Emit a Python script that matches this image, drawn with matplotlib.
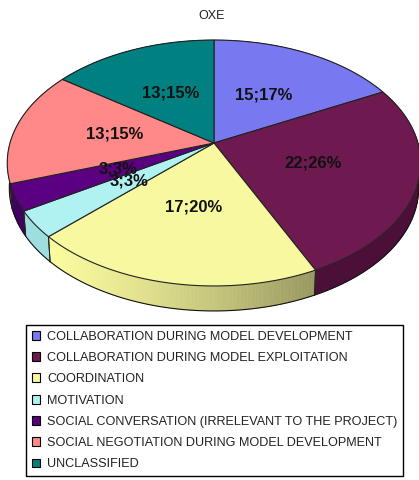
import matplotlib
matplotlib.use("Agg")
import matplotlib.pyplot as plt
import numpy as np
from matplotlib.patches import Patch

plt.rcParams["font.family"] = ["Liberation Sans", "DejaVu Sans"]

title = "OXE"
categories = [
    "COLLABORATION DURING MODEL DEVELOPMENT",
    "COLLABORATION DURING MODEL EXPLOITATION",
    "COORDINATION",
    "MOTIVATION",
    "SOCIAL CONVERSATION (IRRELEVANT TO THE PROJECT)",
    "SOCIAL NEGOTIATION DURING MODEL DEVELOPMENT",
    "UNCLASSIFIED",
]
values = [15, 22, 17, 3, 3, 13, 13]
percents = [17, 26, 20, 3, 3, 15, 15]
top_colors = ["#7878f0", "#6e1a50", "#f8f8a0", "#b0f2f2", "#5a0080", "#ff8888", "#008080"]
side_colors = ["#5050a0", "#4c1038", "#f6f69a", "#9fdede", "#420060", "#b06060", "#005858"]

# perspective of the tilted disc, in image pixels
CX, CY = 214, 143
A, B, K = 204, 119.7, 0.1626
DEPTH = 25


def project(r, theta):
    # theta runs clockwise from 12 o'clock
    x = r * np.sin(theta)
    y = r * np.cos(theta)
    d = 1 + K * y
    return CX + A * x / d, CY - B * y / d


def shade_yellow(px):
    # side of the coordination slice darkens towards the right
    t = np.clip((px - 50) / 265, 0, 1)
    c0 = np.array([0.98, 0.98, 0.62])
    c1 = np.array([0.60, 0.60, 0.38])
    return tuple(c0 + (c1 - c0) * t**1.3)


fig = plt.figure(figsize=(4.19, 4.80), dpi=100)
ax = fig.add_axes([0, 0, 1, 1])
ax.set_xlim(0, 419)
ax.set_ylim(480, 0)
ax.axis("off")

edges = np.cumsum([0] + values) / sum(values) * 2 * np.pi

# rim first
for i in range(len(values)):
    th = np.linspace(edges[i], edges[i + 1], 80)
    x, y = project(1, th)
    xb = CX + (x - CX) * 0.99
    yb = y + DEPTH
    if i == 2:
        for j in range(len(th) - 1):
            ax.fill(
                [x[j], x[j + 1], xb[j + 1], xb[j]],
                [y[j], y[j + 1], yb[j + 1], yb[j]],
                color=shade_yellow(x[j]),
                lw=0.4,
                zorder=2,
            )
    else:
        ax.fill(
            np.r_[x, xb[::-1]],
            np.r_[y, yb[::-1]],
            color=side_colors[i],
            lw=0.4,
            zorder=2,
        )
    ax.plot(xb, yb, color="#111111", lw=0.8, zorder=3)
    # vertical seam at the front edge of each slice
    for k in (0, -1):
        if y[k] > 175:
            ax.plot([x[k], xb[k]], [y[k], yb[k]], color="#222222", lw=0.7, zorder=3)

# top of the disc
for i in range(len(values)):
    th = np.linspace(edges[i], edges[i + 1], 120)
    x, y = project(1, th)
    ax.fill(
        np.r_[CX, x],
        np.r_[CY, y],
        facecolor=top_colors[i],
        edgecolor="#222222",
        lw=0.8,
        zorder=4,
    )

# labels sit halfway along each slice
for i in range(len(values)):
    mid = (edges[i] + edges[i + 1]) / 2
    lx, ly = project(0.5, mid)
    ax.text(
        lx,
        ly,
        f"{values[i]};{percents[i]}%",
        ha="center",
        va="center",
        fontsize=12,
        fontweight="bold",
        color="#111111",
        zorder=5,
    )

ax.text(212, 16, title, ha="center", va="center", fontsize=9, color="#222222")

handles = [Patch(facecolor=c, edgecolor="black", lw=0.8) for c in top_colors]
leg = ax.legend(
    handles,
    categories,
    loc="upper left",
    bbox_to_anchor=(26 / 419, 2 / 480, 377 / 419, 153 / 480),
    mode="expand",
    borderaxespad=0,
    fontsize=9.05,
    frameon=True,
    fancybox=False,
    framealpha=1,
    edgecolor="black",
    handlelength=0.7,
    handleheight=0.7,
    handletextpad=0.55,
    labelspacing=0.74,
    borderpad=0.45,
    labelcolor="#222222",
)
leg.get_frame().set_linewidth(1.0)
leg.set_zorder(6)

fig.savefig("out.png", dpi=100)
